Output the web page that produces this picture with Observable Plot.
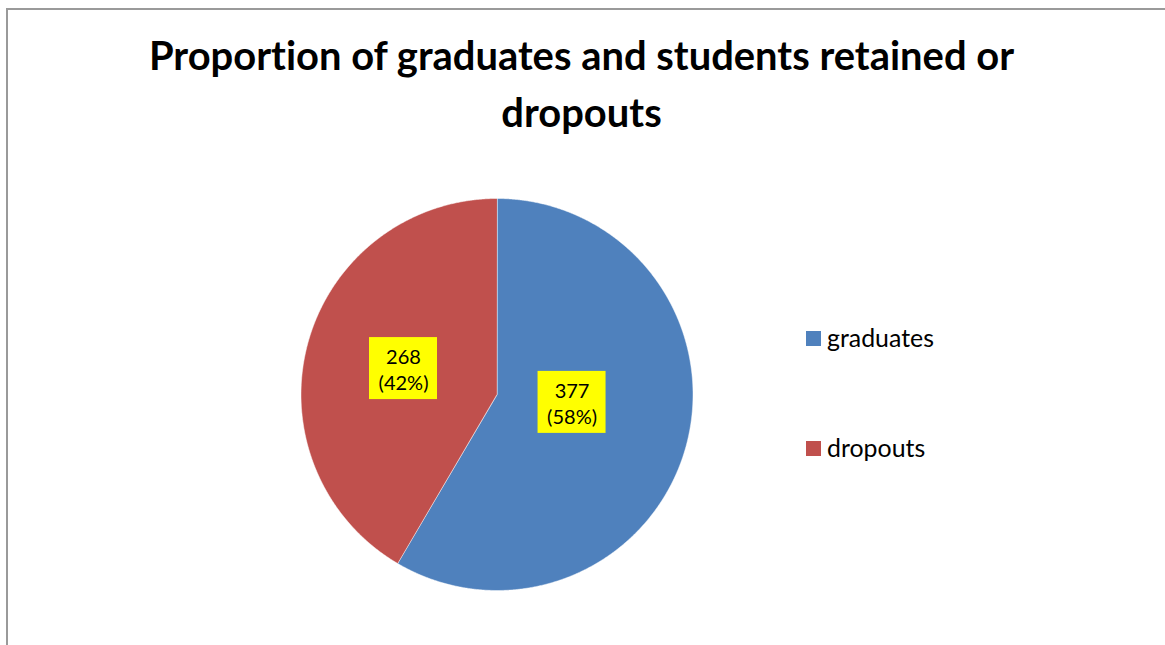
<!DOCTYPE html>
<html><head><meta charset="utf-8">
<script src="https://cdn.jsdelivr.net/npm/d3@7"></script>
<script src="https://cdn.jsdelivr.net/npm/@observablehq/plot@0.6"></script>
<style>
body{margin:0;background:#fff;}
#wrap{position:relative;width:1165px;height:645px;overflow:hidden;font-family:Lato,"Open Sans",sans-serif;color:#000;font-variant-ligatures:none;}
#frame{position:absolute;left:6px;top:8px;width:1200px;height:700px;border-left:2px solid #9a9a9a;border-top:2px solid #9a9a9a;}
.t{position:absolute;white-space:nowrap;line-height:1;font-weight:bold;transform:translateX(-50%);font-variant-ligatures:none;}
.lg{position:absolute;white-space:nowrap;line-height:1;}
.sw{position:absolute;width:15px;height:15px;}
#chart{position:absolute;left:0;top:0;}
#chart text{font-variant-ligatures:none;}
</style></head><body><div id="wrap"><div id="frame"></div><div id="chart"></div></div>
<script>
const titleLines = ["Proportion of graduates and students retained or", "dropouts"];
const categories = ["graduates", "dropouts"];
const values = [377, 268];
const colors = ["#4F81BD", "#C0504D"];

const total = d3.sum(values);
const pie = d3.pie().sort(null).value(d => d.value);
const data = categories.map((c, i) => ({category: c, value: values[i], pct: Math.round(values[i] / total * 100)}));
const arcs = pie(data);

// slice outlines generated from pie angles
const pts = [];
for (const a of arcs) {
  pts.push({category: a.data.category, x: 0, y: 0});
  const n = Math.max(2, Math.ceil((a.endAngle - a.startAngle) / 0.005));
  for (let k = 0; k <= n; k++) {
    const t = a.startAngle + (a.endAngle - a.startAngle) * k / n;
    pts.push({category: a.data.category, x: Math.sin(t), y: Math.cos(t)});
  }
}

// label placement (angle in radians from top clockwise, radius fraction)
const labelPlace = {graduates: {ang: 96 * Math.PI / 180, r: 0.385}, dropouts: {ang: 285.5 * Math.PI / 180, r: 0.495}};
const labels = arcs.map(a => {
  const p = labelPlace[a.data.category];
  return {...a.data, x: p.r * Math.sin(p.ang), y: p.r * Math.cos(p.ang)};
});
const R = 196, hw = 34 / R, hh = 31 / R;

const cx = 496.5, cy = 394, W = 1165, H = 645;
const plot = Plot.plot({
  width: W, height: H,
  marginLeft: cx - R, marginRight: W - (cx + R),
  marginTop: cy - R, marginBottom: H - (cy + R),
  x: {domain: [-1, 1], axis: null},
  y: {domain: [-1, 1], axis: null},
  color: {domain: categories, range: colors},
  style: {background: "transparent", overflow: "visible"},
  marks: [
    Plot.line(pts, {x: "x", y: "y", z: "category", fill: "category", stroke: "#ffffff", strokeOpacity: 0.6, strokeWidth: 0.8, curve: "linear-closed"}),
    Plot.rect(labels, {x1: d => d.x - hw, x2: d => d.x + hw, y1: d => d.y - hh, y2: d => d.y + hh, fill: "#FFFF00"}),
    Plot.text(labels, {x: "x", y: "y", text: d => `${d.value}\n(${d.pct}%)`, fontSize: 20, lineHeight: 1.3, fill: "#000", fontFamily: "Lato"})
  ]
});
document.getElementById("chart").appendChild(plot);

const wrap = document.getElementById("wrap");
const cvs = document.createElement("canvas").getContext("2d");
function fitSize(text, weight, target) {
  cvs.font = `${weight} 100px Lato`;
  return 100 * target / cvs.measureText(text).width;
}
// title
const ts = fitSize(titleLines[0], "bold", 867);
[[titleLines[0], 71], [titleLines[1], 128]].forEach(([txt, base]) => {
  const d = document.createElement("div");
  d.className = "t"; d.textContent = txt;
  d.style.fontSize = ts + "px";
  d.style.left = "581.5px";
  d.style.top = (base - 0.887 * ts) + "px";
  wrap.appendChild(d);
});
// legend
const ls = fitSize("graduates", "normal", 107);
categories.forEach((c, i) => {
  const base = [347, 457][i];
  const s = document.createElement("div");
  s.className = "sw"; s.style.background = colors[i];
  s.style.left = "806px"; s.style.top = (base - 16) + "px";
  wrap.appendChild(s);
  const t = document.createElement("div");
  t.className = "lg"; t.textContent = c;
  t.style.fontSize = ls + "px";
  t.style.left = "827px"; t.style.top = (base - 0.887 * ls) + "px";
  wrap.appendChild(t);
});
</script>
</body></html>
